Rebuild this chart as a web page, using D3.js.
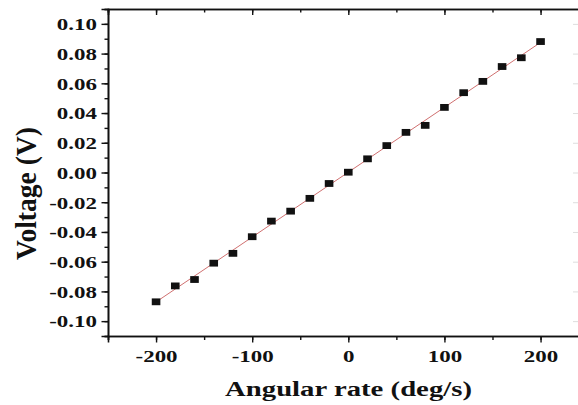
<!DOCTYPE html>
<html>
<head>
<meta charset="utf-8">
<script src="https://cdn.jsdelivr.net/npm/d3@7"></script>
<style>
  body { margin: 0; background: #fff; }
  svg { display: block; }
  text { font-family: "Liberation Serif", "Times New Roman", serif; font-weight: bold; fill: #111; }
</style>
</head>
<body>
<script>
var rates = [-200, -180, -160, -140, -120, -100, -80, -60, -40, -20, 0,
             20, 40, 60, 80, 100, 120, 140, 160, 180, 200];
var voltages = [-0.0870, -0.0763, -0.0720, -0.0610, -0.0544, -0.0432, -0.0327,
                -0.0260, -0.0174, -0.0074, 0.0002, 0.0092, 0.0181, 0.0270,
                0.0317, 0.0438, 0.0537, 0.0613, 0.0713, 0.0772, 0.0881];
var xTicks = [-200, -100, 0, 100, 200];
var yTicks = [-0.10, -0.08, -0.06, -0.04, -0.02, 0.00, 0.02, 0.04, 0.06, 0.08, 0.10];

var width = 578,
    height = 405,
    stretch = 1.35; // the source picture is widened horizontally

var svg = d3.select('body')
    .append('svg')
    .attr('width', width)
    .attr('height', height);

var x = d3.scaleLinear()
    .domain([-250, 240])
    .range([108, 579]);

var y = d3.scaleLinear()
    .domain([-0.11, 0.11])
    .range([336, 9]);

var xMinor = d3.range(-250, 241, 50);
var yMinor = d3.range(-11, 12).map(function(d) { return d / 100; });

// plain hyphen instead of d3's unicode minus
function hyphen(fmt) {
    return function(d) { return fmt(d).replace('\u2212', '-'); };
}

function styleAxis(g) {
    g.select('.domain').attr('stroke', '#111').attr('stroke-width', 1.6);
    g.selectAll('.tick line').attr('stroke', '#111').attr('stroke-width', 1.4);
}

// minor ticks first
svg.append('g')
    .attr('transform', 'translate(0,336)')
    .call(d3.axisBottom(x).tickValues(xMinor).tickSize(4).tickFormat(''))
    .call(styleAxis);
svg.append('g')
    .attr('transform', 'translate(0,9)')
    .call(d3.axisTop(x).tickValues(xMinor).tickSize(-3.5).tickFormat(''))
    .call(styleAxis);
svg.append('g')
    .attr('transform', 'translate(108,0)')
    .call(d3.axisLeft(y).tickValues(yMinor).tickSize(3.5).tickFormat(''))
    .call(styleAxis);

// major ticks with labels
var xAxis = svg.append('g')
    .attr('transform', 'translate(0,336)')
    .call(d3.axisBottom(x).tickValues(xTicks).tickSize(6.5).tickPadding(0).tickFormat(hyphen(d3.format('d'))))
    .call(styleAxis);
xAxis.selectAll('text')
    .attr('font-size', 17)
    .attr('y', 26)
    .attr('dy', 0)
    .attr('transform', 'scale(' + stretch + ',1)')
    .attr('x', 0);

svg.append('g')
    .attr('transform', 'translate(0,9)')
    .call(d3.axisTop(x).tickValues(xTicks).tickSize(-6).tickFormat(''))
    .call(styleAxis);

var yAxis = svg.append('g')
    .attr('transform', 'translate(108,0)')
    .call(d3.axisLeft(y).tickValues(yTicks).tickSize(6.5).tickFormat(hyphen(d3.format('.2f'))))
    .call(styleAxis);
yAxis.selectAll('text')
    .attr('font-size', 17)
    .attr('x', -11 / stretch)
    .attr('dy', '0.34em')
    .attr('transform', 'scale(' + stretch + ',1)');

// right frame side sits just past the cropped edge, only faint ticks show
var right = svg.append('g')
    .attr('transform', 'translate(579,0)')
    .call(d3.axisRight(y).tickValues(yTicks).tickSize(-6).tickFormat(''));
right.selectAll('line').attr('stroke', '#ddd');
right.select('.domain').attr('stroke', '#111');

// linear fit
var xm = d3.mean(rates), ym = d3.mean(voltages);
var sxy = d3.sum(rates, function(d, i) { return (d - xm) * (voltages[i] - ym); });
var sxx = d3.sum(rates, function(d) { return (d - xm) * (d - xm); });
var slope = sxy / sxx, intercept = ym - slope * xm;
var fitX = d3.extent(rates);

svg.append('path')
    .datum(fitX)
    .attr('d', d3.line()
        .x(function(d) { return x(d); })
        .y(function(d) { return y(intercept + slope * d); }))
    .attr('fill', 'none')
    .attr('stroke', '#d07070')
    .attr('stroke-width', 1);

svg.selectAll('.pt')
    .data(rates)
    .enter()
    .append('rect')
    .attr('class', 'pt')
    .attr('x', function(d) { return x(d) - 4.3; })
    .attr('y', function(d, i) { return y(voltages[i]) - 3.4; })
    .attr('width', 8.6)
    .attr('height', 6.8)
    .attr('fill', '#111');

// axis titles
svg.append('text')
    .attr('transform', 'translate(348.5,396) scale(' + stretch + ',1)')
    .attr('text-anchor', 'middle')
    .attr('font-size', 21)
    .attr('textLength', 247 / stretch)
    .attr('lengthAdjust', 'spacingAndGlyphs')
    .text('Angular rate (deg/s)');

svg.append('text')
    .attr('transform', 'translate(36,193.5) scale(' + stretch + ',1) rotate(-90)')
    .attr('text-anchor', 'middle')
    .attr('font-size', 22)
    .attr('textLength', 133)
    .attr('lengthAdjust', 'spacingAndGlyphs')
    .text('Voltage (V)');
</script>
</body>
</html>
